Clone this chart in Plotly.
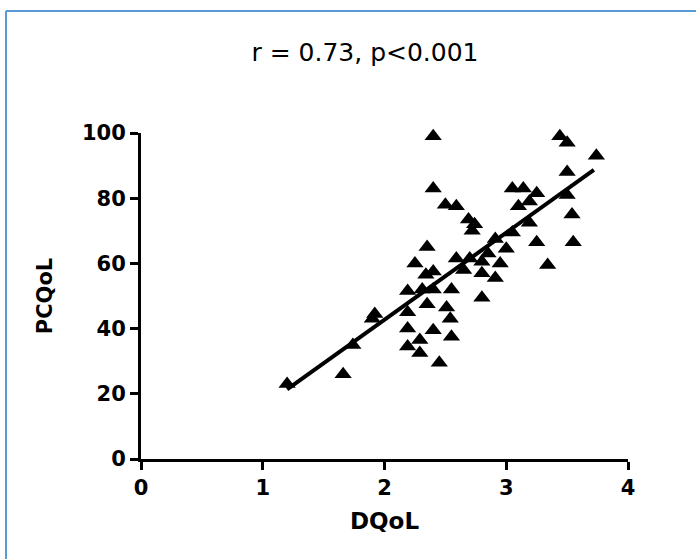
import numpy as np
import plotly.graph_objects as go

# Data
dqol = [1.20, 1.66, 1.74, 1.90, 1.92, 2.19, 2.19, 2.19, 2.19, 2.25,
        2.29, 2.29, 2.31, 2.34, 2.35, 2.35, 2.40, 2.40, 2.40, 2.40,
        2.40, 2.45, 2.50, 2.51, 2.54, 2.55, 2.55, 2.59, 2.59, 2.65,
        2.69, 2.70, 2.72, 2.74, 2.80, 2.80, 2.80, 2.85, 2.91, 2.91,
        2.95, 3.00, 3.05, 3.05, 3.10, 3.14, 3.19, 3.19, 3.25, 3.25,
        3.34, 3.44, 3.50, 3.50, 3.50, 3.54, 3.55, 3.74]
pcqol = [23, 26, 35, 43, 44.5, 34.5, 40, 45, 51.5, 60,
         32.5, 36.5, 52, 56.5, 65, 47.5, 57.5, 52, 39.5, 99,
         83, 29.5, 78, 46.5, 43, 37.5, 52, 77.5, 61.5, 58,
         73.5, 61.5, 70, 72, 49.5, 57, 60.5, 63, 55.5, 67.5,
         60, 64.5, 69.5, 83, 77.5, 83, 79, 72.5, 81.5, 66.5,
         59.5, 99, 97, 88, 81, 75, 66.5, 93]

title_text = "r = 0.73, p<0.001"
x_label = "DQoL"
y_label = "PCQoL"
x_ticks = [0, 1, 2, 3, 4]
y_ticks = [0, 20, 40, 60, 80, 100]

# Linear regression line from the data
slope, intercept = np.polyfit(dqol, pcqol, 1)
line_x = np.array([min(dqol), max(dqol) - 0.02])
line_y = slope * line_x + intercept

fig = go.Figure()
fig.add_trace(go.Scatter(
    x=dqol, y=pcqol, mode="markers",
    marker=dict(symbol="triangle-up", size=15, color="black"),
    cliponaxis=False, showlegend=False,
))
fig.add_trace(go.Scatter(
    x=line_x, y=line_y, mode="lines",
    line=dict(color="black", width=4),
    cliponaxis=False, showlegend=False,
))

font_fam = "DejaVu Sans, Arial, sans-serif"
axis_common = dict(
    showline=True, linecolor="black", linewidth=3,
    ticks="outside", ticklen=8, tickwidth=2.5, tickcolor="black",
    showgrid=False, zeroline=False,
    tickfont=dict(family=font_fam, size=21, color="black", weight="bold"),
)

fig.update_layout(
    width=696, height=559,
    paper_bgcolor="white", plot_bgcolor="white",
    margin=dict(l=141, r=68, t=133, b=100),
    title=dict(text=title_text, x=365 / 696, xref="container", xanchor="center",
               y=1 - 52 / 559, yref="container", yanchor="middle",
               font=dict(family=font_fam, size=25, color="black")),
    xaxis=dict(range=[0, 4], tickvals=x_ticks, **axis_common,
               title=dict(text=x_label, standoff=14,
                          font=dict(family=font_fam, size=23, color="black", weight="bold"))),
    yaxis=dict(range=[0, 100], tickvals=y_ticks, **axis_common,
               title=dict(text=y_label, standoff=24,
                          font=dict(family=font_fam, size=21, color="black", weight="bold"))),
    shapes=[
        dict(type="line", xref="paper", yref="paper",
             x0=(6 - 141) / 487, x1=1.3, y0=(459 - 11) / 326, y1=(459 - 11) / 326,
             line=dict(color="#5B9BD5", width=2)),
        dict(type="line", xref="paper", yref="paper",
             x0=(6 - 141) / 487, x1=(6 - 141) / 487, y0=(459 - 11) / 326, y1=-0.5,
             line=dict(color="#5B9BD5", width=2)),
    ],
)

fig.write_html("out.html", config={"displayModeBar": False},
               post_script="document.body.style.margin='0';")
